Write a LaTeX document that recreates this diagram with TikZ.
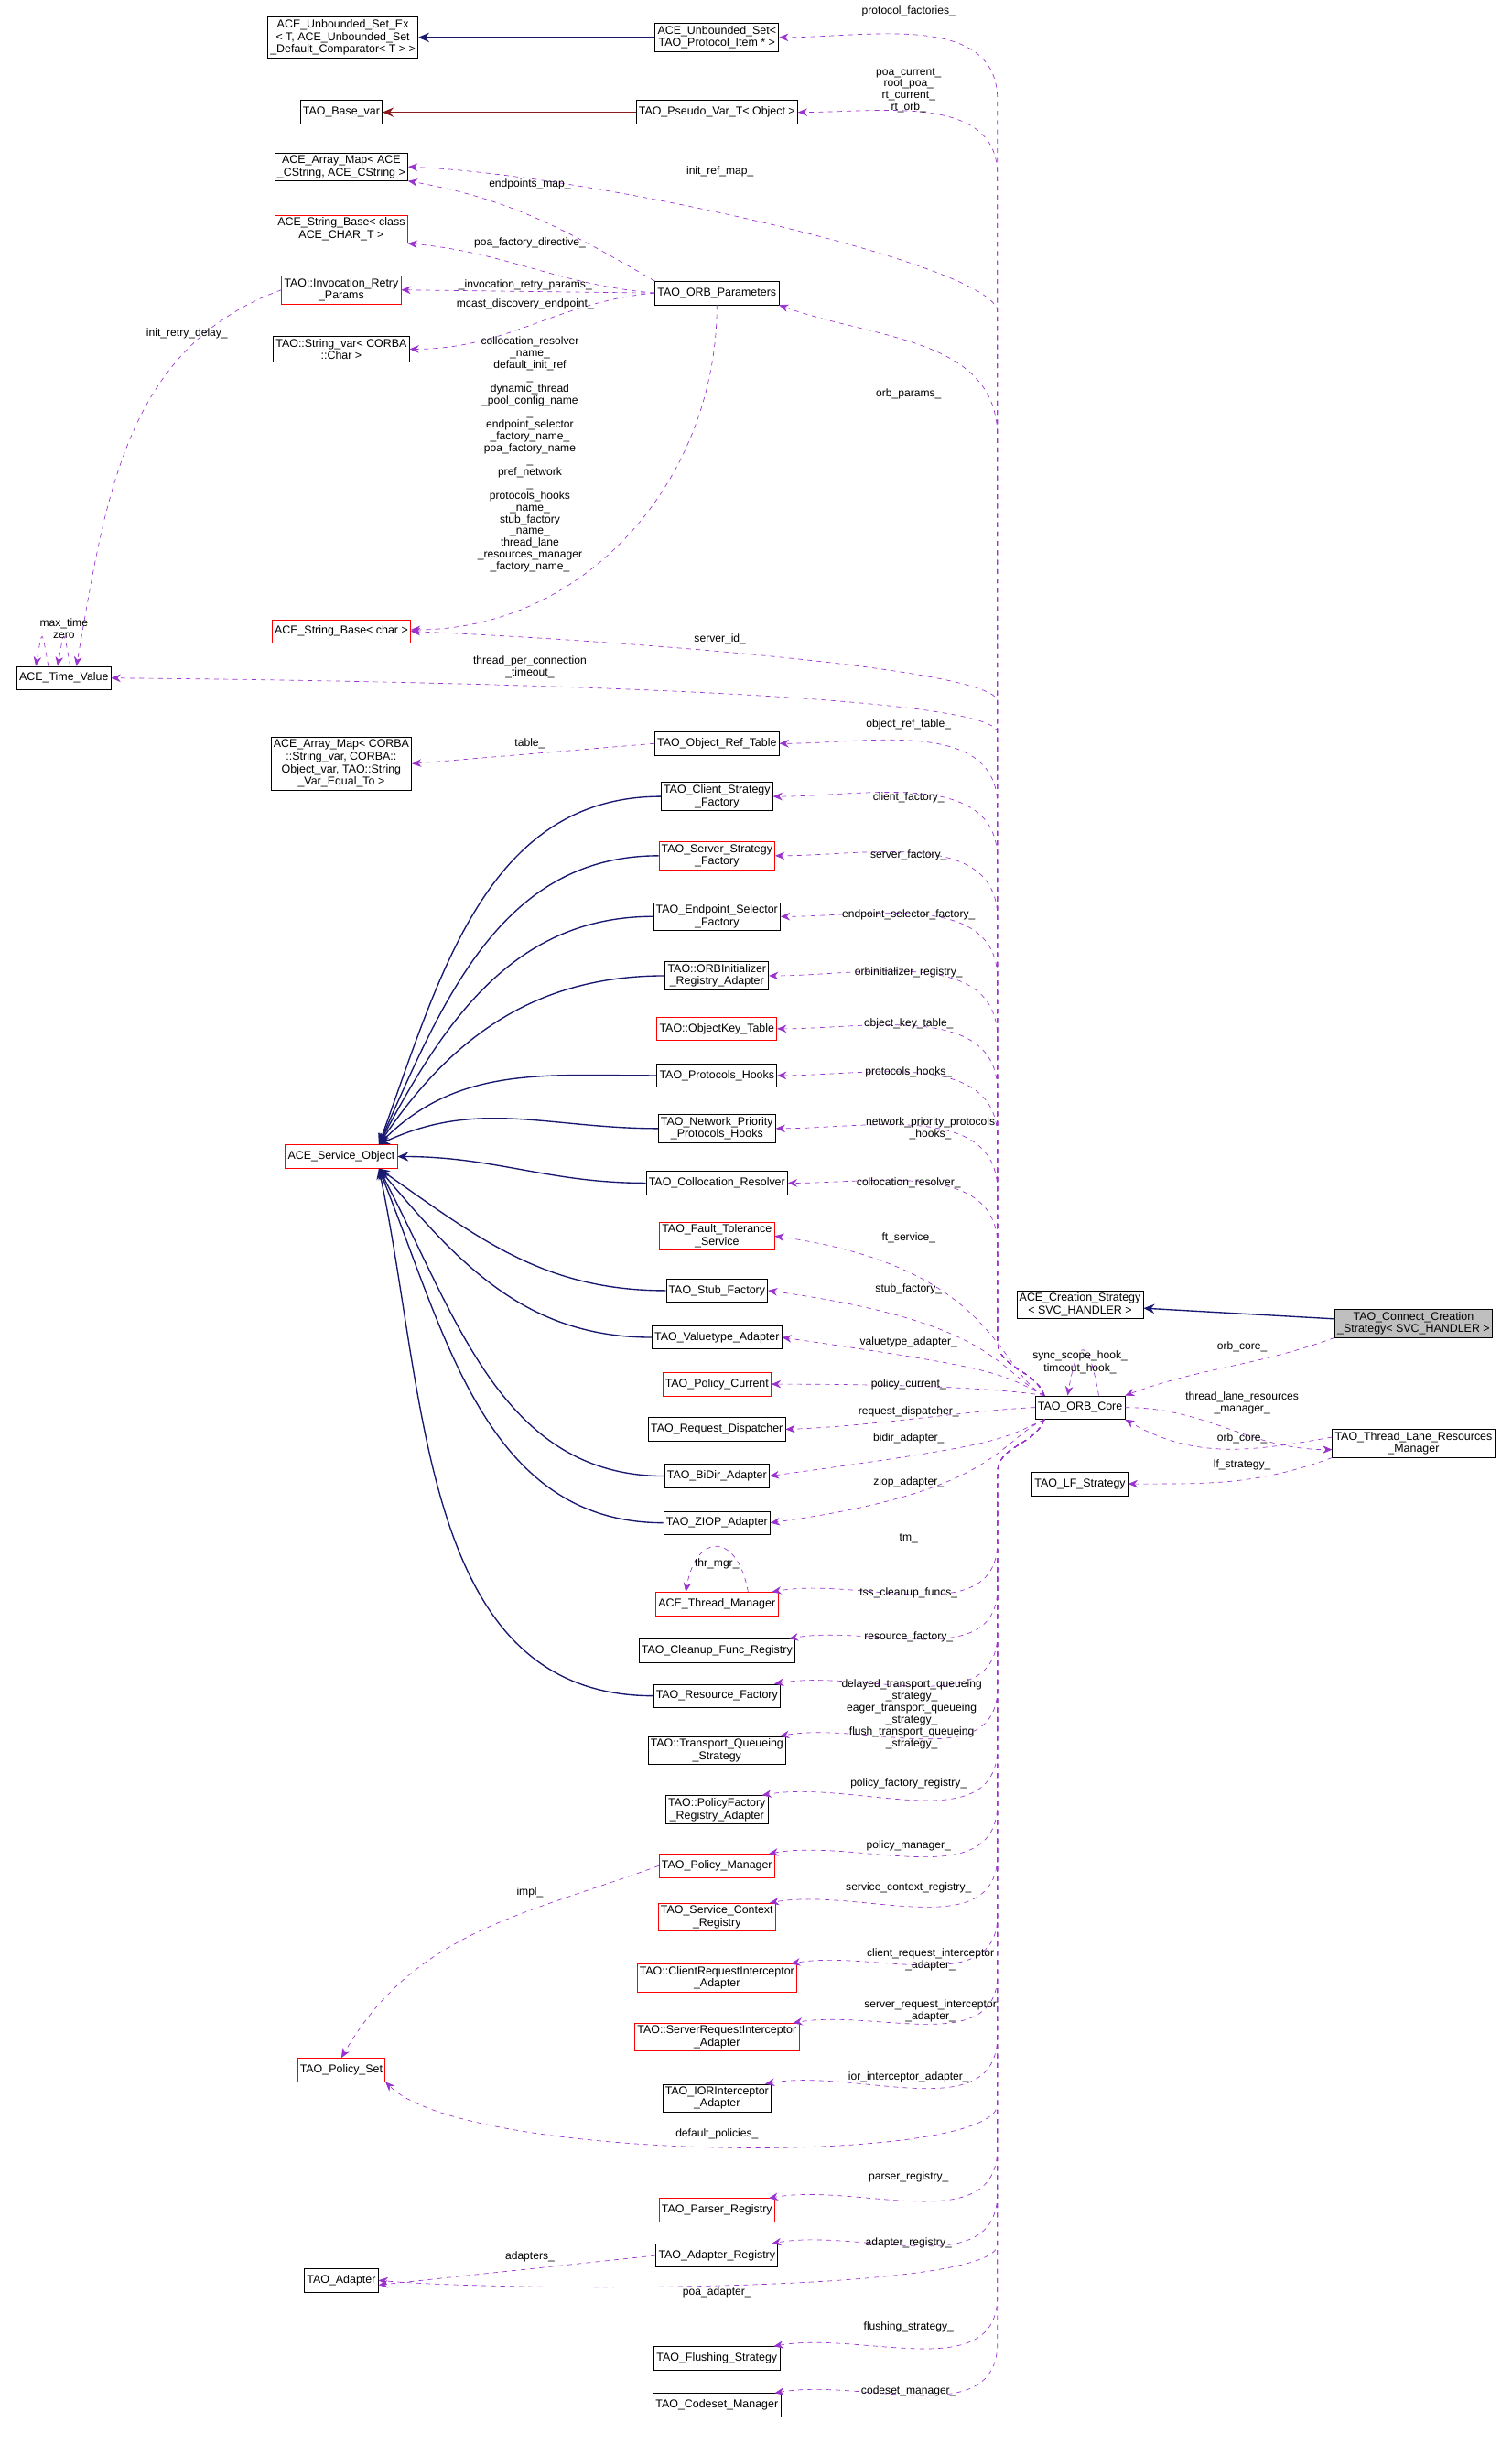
\documentclass[tikz,border=0pt]{standalone}
\usepackage{fontspec}
\setmainfont{Liberation Sans}
\usetikzlibrary{arrows.meta,calc}
\definecolor{dp}{HTML}{9A32CD}
\definecolor{nv}{HTML}{191970}
\definecolor{dr}{HTML}{8B1A1A}
\begin{document}
\begin{tikzpicture}[x=1pt,y=-1pt,
 box/.style={draw=black,fill=white,inner sep=1.6pt,align=center,font=\fontsize{7.3}{8}\selectfont,minimum height=15pt},
 rbox/.style={box,draw=red},
 lab/.style={align=center,font=\fontsize{7.1}{7.6}\selectfont,inner sep=0pt},
 dep/.style={dp,dashed,-{Stealth[length=6pt,width=5pt]}},
 inh/.style={nv,thick,-{Stealth[length=7pt,width=6pt]}},
 red/.style={dr,thick,-{Stealth[length=7pt,width=6pt]}}]
\useasboundingbox (0,0) rectangle (970,1568);
\node[box] (n1) at (220,24) {ACE\_Unbounded\_Set\_Ex\\< T, ACE\_Unbounded\_Set\\\_Default\_Comparator< T > >};
\node[box] (n2) at (460,24) {ACE\_Unbounded\_Set<\\TAO\_Protocol\_Item * >};
\node[box] (n3) at (219,72) {TAO\_Base\_var};
\node[box] (n4) at (460,72) {TAO\_Pseudo\_Var\_T< Object >};
\node[box] (n5) at (219,107) {ACE\_Array\_Map< ACE\\\_CString, ACE\_CString >};
\node[rbox] (n6) at (219,147) {ACE\_String\_Base< class\\ACE\_CHAR\_T >};
\node[rbox] (n7) at (219,186) {TAO::Invocation\_Retry\\\_Params};
\node[box] (n8) at (460,188) {TAO\_ORB\_Parameters};
\node[box] (n9) at (219,224) {TAO::String\_var< CORBA\\::Char >};
\node[rbox] (n10) at (219,405) {ACE\_String\_Base< char >};
\node[box] (n11) at (41,435) {ACE\_Time\_Value};
\node[box] (n12) at (219,490) {ACE\_Array\_Map< CORBA\\::String\_var, CORBA::\\Object\_var, TAO::String\\\_Var\_Equal\_To >};
\node[box] (n13) at (460,477) {TAO\_Object\_Ref\_Table};
\node[box] (n14) at (460,511) {TAO\_Client\_Strategy\\\_Factory};
\node[rbox] (n15) at (460,549) {TAO\_Server\_Strategy\\\_Factory};
\node[box] (n16) at (460,588) {TAO\_Endpoint\_Selector\\\_Factory};
\node[box] (n17) at (460,626) {TAO::ORBInitializer\\\_Registry\_Adapter};
\node[rbox] (n18) at (460,660) {TAO::ObjectKey\_Table};
\node[box] (n19) at (460,690) {TAO\_Protocols\_Hooks};
\node[box] (n20) at (460,724) {TAO\_Network\_Priority\\\_Protocols\_Hooks};
\node[box] (n21) at (460,759) {TAO\_Collocation\_Resolver};
\node[rbox] (n22) at (460,793) {TAO\_Fault\_Tolerance\\\_Service};
\node[box] (n23) at (460,828) {TAO\_Stub\_Factory};
\node[box] (n24) at (460,858) {TAO\_Valuetype\_Adapter};
\node[rbox] (n25) at (460,888) {TAO\_Policy\_Current};
\node[box] (n26) at (460,917) {TAO\_Request\_Dispatcher};
\node[box] (n27) at (460,947) {TAO\_BiDir\_Adapter};
\node[box] (n28) at (460,977) {TAO\_ZIOP\_Adapter};
\node[rbox] (n29) at (460,1029) {ACE\_Thread\_Manager};
\node[box] (n30) at (460,1059) {TAO\_Cleanup\_Func\_Registry};
\node[box] (n31) at (460,1088) {TAO\_Resource\_Factory};
\node[box] (n32) at (460,1123) {TAO::Transport\_Queueing\\\_Strategy};
\node[box] (n33) at (460,1161) {TAO::PolicyFactory\\\_Registry\_Adapter};
\node[rbox] (n34) at (460,1197) {TAO\_Policy\_Manager};
\node[rbox] (n35) at (460,1230) {TAO\_Service\_Context\\\_Registry};
\node[rbox] (n36) at (460,1269) {TAO::ClientRequestInterceptor\\\_Adapter};
\node[rbox] (n37) at (460,1307) {TAO::ServerRequestInterceptor\\\_Adapter};
\node[box] (n38) at (460,1346) {TAO\_IORInterceptor\\\_Adapter};
\node[rbox] (n39) at (460,1418) {TAO\_Parser\_Registry};
\node[box] (n40) at (460,1447) {TAO\_Adapter\_Registry};
\node[box] (n41) at (460,1513) {TAO\_Flushing\_Strategy};
\node[box] (n42) at (460,1543) {TAO\_Codeset\_Manager};
\node[rbox] (n43) at (219,742) {ACE\_Service\_Object};
\node[rbox] (n44) at (219,1328) {TAO\_Policy\_Set};
\node[box] (n45) at (219,1463) {TAO\_Adapter};
\node[box] (n46) at (693,903) {TAO\_ORB\_Core};
\node[box] (n47) at (693,837) {ACE\_Creation\_Strategy\\< SVC\_HANDLER >};
\node[box,fill=black!25] (n48) at (907,849) {TAO\_Connect\_Creation\\\_Strategy< SVC\_HANDLER >};
\node[box] (n49) at (907,926) {TAO\_Thread\_Lane\_Resources\\\_Manager};
\node[box] (n50) at (693,952) {TAO\_LF\_Strategy};
% inheritance
\draw[inh] (n2) -- (n1);
\draw[red] (n4) -- (n3);
\draw[inh] (n48) -- (n47);
\coordinate (so) at ([xshift=-12]n43.north east);
\coordinate (su) at ([xshift=-12]n43.south east);
\foreach \n/\o in {n14/70,n15/66,n16/62,n17/56,n19/45,n20/25}
  \draw[inh] (\n.west) to[out=180,in=\o] (so);
\draw[inh] (n21.west) to[out=180,in=0] (n43.east);
\foreach \n/\o in {n23/-35,n24/-50,n27/-62,n28/-68,n31/-78}
  \draw[inh] (\n.west) to[out=180,in=\o] (su);
% ORB core deps upward via trunk
\coordinate (up) at ([xshift=6]n46.north west);
\coordinate (dn) at ([xshift=6]n46.south west);
\coordinate (tu) at (640,860);
\coordinate (td) at (640,945);
\foreach \n/\y in {n2/24,n4/72,n13/477,n14/511,n15/549,n16/588,n17/626,n18/660,n19/690,n20/724,n21/759}
  \draw[dep] (up) to[out=110,in=-90] (tu) -- (640,{\y+40}) to[out=90,in=0] (\n.east);
\draw[dep] (up) to[out=110,in=-90] (tu) -- (640,280) to[out=90,in=-20] (n8.south east);
\draw[dep] (up) to[out=110,in=-90] (tu) -- (640,200) .. controls (640,170) and (380,112) .. (n5.east);
\draw[dep] (up) to[out=110,in=-90] (tu) -- (640,450) .. controls (640,428) and (380,410) .. (n10.east);
\draw[dep] (up) to[out=110,in=-90] (tu) -- (640,470) .. controls (640,445) and (300,437) .. (n11.east);
\foreach \n/\y in {n22/793,n23/828,n24/858}
  \draw[dep] (up) .. controls (640,880) and (640,{\y+20}) .. (\n.east);
\draw[dep] (up) .. controls (650,892) and (600,888) .. (n25.east);
\draw[dep] (n46.west) .. controls (620,905) and (560,915) .. (n26.east);
\foreach \n/\y in {n27/947,n28/977}
  \draw[dep] (dn) .. controls (640,925) and (640,{\y-20}) .. (\n.east);
\foreach \n/\y in {n29/1029,n30/1059,n31/1088,n32/1123,n33/1161,n34/1197,n35/1230,n36/1269,n37/1307,n38/1346,n39/1418,n40/1447,n41/1513,n42/1543}
  \draw[dep] (dn) to[out=-110,in=90] (td) -- (640,{\y-40}) to[out=-90,in=10] ([xshift=-4]\n.north east);
\draw[dep] (dn) to[out=-110,in=90] (td) -- (640,1350) .. controls (640,1390) and (300,1388) .. (n44.south east);
\draw[dep] (dn) to[out=-110,in=90] (td) -- (640,1440) .. controls (640,1472) and (320,1470) .. (n45.east);
% ORB params deps
\draw[dep] (n8.north west) to[out=150,in=-10] (n5.south east);
\draw[dep] (n8.west) to[out=175,in=-5] (n6.south east);
\draw[dep] (n8.west) -- (n7.east);
\draw[dep] (n8.west) to[out=185,in=0] (n9.east);
\draw[dep] (n8.south) to[out=-90,in=0] ([yshift=1]n10.east);
\draw[dep] (n13.west) -- (n12.east);
\draw[dep] (n7.west) to[out=200,in=80] ([xshift=8]n11.north);
\draw[dep] (n34.west) to[out=200,in=60] (n44.north);
\draw[dep] (n40.west) -- ([yshift=-3]n45.east);
\draw[dep] ([xshift=-10]n11.north) to[out=100,in=80,looseness=8] ([xshift=-18]n11.north);
\draw[dep] ([xshift=4]n11.north) to[out=100,in=80,looseness=8] ([xshift=-4]n11.north);
\draw[dep] ([xshift=20]n29.north) to[out=100,in=80,looseness=2.5] ([xshift=-20]n29.north);
\draw[dep] ([xshift=12]n46.north) to[out=100,in=80,looseness=5] ([xshift=-8]n46.north);
\draw[dep] (n48.south west) to[out=200,in=20] (n46.north east);
\draw[dep] (n46.east) to[out=0,in=180] ([yshift=-4]n49.west);
\draw[dep] ([yshift=4]n49.west) to[out=190,in=-30] (n46.south east);
\draw[dep] (n49.south west) to[out=200,in=0] (n50.east);
% labels
\node[lab] (l1) at (583,7) {protocol\_factories\_};
\node[lab] (l2) at (583,58) {poa\_current\_\\root\_poa\_\\rt\_current\_\\rt\_orb\_};
\node[lab] (l3) at (462,110) {init\_ref\_map\_};
\node[lab] (l4) at (340,118) {endpoints\_map\_};
\node[lab] (l5) at (340,156) {poa\_factory\_directive\_};
\node[lab] (l6) at (337,183) {\_invocation\_retry\_params\_};
\node[lab] (l7) at (337,195) {mcast\_discovery\_endpoint\_};
\node[lab,anchor=north] (l8) at (340,216) {collocation\_resolver\\\_name\_\\default\_init\_ref\\\_\\dynamic\_thread\\\_pool\_config\_name\\\_\\endpoint\_selector\\\_factory\_name\_\\poa\_factory\_name\\\_\\pref\_network\\\_\\protocols\_hooks\\\_name\_\\stub\_factory\\\_name\_\\thread\_lane\\\_resources\_manager\\\_factory\_name\_};
\node[lab] (l9) at (120,214) {init\_retry\_delay\_};
\node[lab] (l10) at (41,400) {max\_time};
\node[lab] (l11) at (41,408) {zero};
\node[lab] (l12) at (583,253) {orb\_params\_};
\node[lab] (l13) at (462,410) {server\_id\_};
\node[lab] (l14) at (340,428) {thread\_per\_connection\\\_timeout\_};
\node[lab] (l15) at (340,477) {table\_};
\node[lab] (l16) at (583,465) {object\_ref\_table\_};
\node[lab] (l17) at (583,512) {client\_factory\_};
\node[lab] (l18) at (583,549) {server\_factory\_};
\node[lab] (l19) at (583,587) {endpoint\_selector\_factory\_};
\node[lab] (l20) at (583,624) {orbinitializer\_registry\_};
\node[lab] (l21) at (583,657) {object\_key\_table\_};
\node[lab] (l22) at (583,688) {protocols\_hooks\_};
\node[lab] (l23) at (597,724) {network\_priority\_protocols\\\_hooks\_};
\node[lab] (l24) at (583,759) {collocation\_resolver\_};
\node[lab] (l25) at (583,794) {ft\_service\_};
\node[lab] (l26) at (583,827) {stub\_factory\_};
\node[lab] (l27) at (583,861) {valuetype\_adapter\_};
\node[lab] (l28) at (583,888) {policy\_current\_};
\node[lab] (l29) at (583,906) {request\_dispatcher\_};
\node[lab] (l30) at (583,923) {bidir\_adapter\_};
\node[lab] (l31) at (583,951) {ziop\_adapter\_};
\node[lab] (l32) at (583,987) {tm\_};
\node[lab] (l33) at (460,1003) {thr\_mgr\_};
\node[lab] (l34) at (583,1022) {tss\_cleanup\_funcs\_};
\node[lab] (l35) at (583,1050) {resource\_factory\_};
\node[lab] (l36) at (585,1100) {delayed\_transport\_queueing\\\_strategy\_\\eager\_transport\_queueing\\\_strategy\_\\flush\_transport\_queueing\\\_strategy\_};
\node[lab] (l37) at (583,1144) {policy\_factory\_registry\_};
\node[lab] (l38) at (583,1184) {policy\_manager\_};
\node[lab] (l39) at (583,1211) {service\_context\_registry\_};
\node[lab] (l40) at (597,1257) {client\_request\_interceptor\\\_adapter\_};
\node[lab] (l41) at (597,1290) {server\_request\_interceptor\\\_adapter\_};
\node[lab] (l42) at (583,1333) {ior\_interceptor\_adapter\_};
\node[lab] (l43) at (340,1214) {impl\_};
\node[lab] (l44) at (460,1369) {default\_policies\_};
\node[lab] (l45) at (583,1397) {parser\_registry\_};
\node[lab] (l46) at (583,1439) {adapter\_registry\_};
\node[lab] (l47) at (340,1448) {adapters\_};
\node[lab] (l48) at (460,1471) {poa\_adapter\_};
\node[lab] (l49) at (583,1493) {flushing\_strategy\_};
\node[lab] (l50) at (583,1534) {codeset\_manager\_};
\node[lab] (l51) at (693,870) {sync\_scope\_hook\_};
\node[lab] (l52) at (693,878) {timeout\_hook\_};
\node[lab] (l53) at (797,864) {orb\_core\_};
\node[lab] (l54) at (797,900) {thread\_lane\_resources\\\_manager\_};
\node[lab] (l55) at (797,923) {orb\_core\_};
\node[lab] (l56) at (797,940) {lf\_strategy\_};
\end{tikzpicture}
\end{document}
